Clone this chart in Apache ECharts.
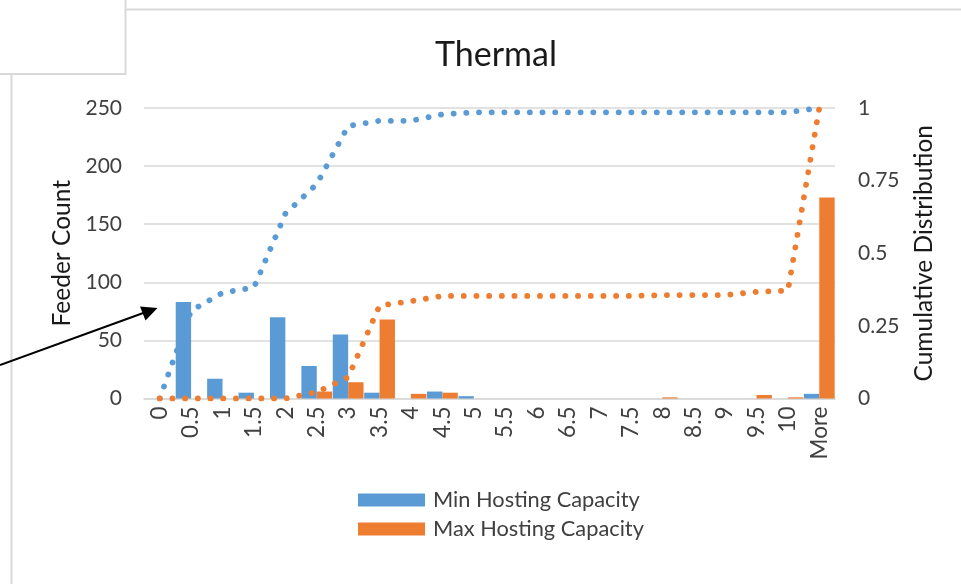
<!DOCTYPE html>
<html>
<head>
<meta charset="utf-8">
<script src="https://cdn.jsdelivr.net/npm/echarts@6/dist/echarts.min.js"></script>
<style>
  html, body { margin: 0; padding: 0; background: #fff; }
  #chart { width: 961px; height: 584px; }
</style>
</head>
<body>
<div id="chart"></div>
<script>
// Hosting capacity bins used on the category axis
const categories = ['0', '0.5', '1', '1.5', '2', '2.5', '3', '3.5', '4', '4.5', '5',
  '5.5', '6', '6.5', '7', '7.5', '8', '8.5', '9', '9.5', '10', 'More'];

// Feeder counts per bin
const minHostingCount = [0, 83, 17, 5, 70, 28, 55, 5, 0, 6, 2, 0, 0, 0, 0, 0, 0, 0, 0, 0, 0, 4];
const maxHostingCount = [0, 0, 0, 0, 0, 6, 14, 68, 4, 5, 0, 0, 0, 0, 0, 0, 1, 0, 0, 3, 1, 173];

// Cumulative distribution per bin
const minHostingCum = [0, 0.302, 0.364, 0.382, 0.636, 0.738, 0.938, 0.956, 0.956, 0.978, 0.985,
  0.985, 0.985, 0.985, 0.985, 0.985, 0.985, 0.985, 0.985, 0.985, 0.985, 1];
const maxHostingCum = [0, 0, 0, 0, 0, 0.022, 0.073, 0.320, 0.335, 0.353, 0.353,
  0.353, 0.353, 0.353, 0.353, 0.353, 0.356, 0.356, 0.356, 0.367, 0.371, 1];

// Axis ticks
const countTicks = { min: 0, max: 250, interval: 50 };
const cumTicks = { min: 0, max: 1, interval: 0.25 };

const BLUE = '#5B9BD5';
const ORANGE = '#ED7D31';
const FONT = 'Lato';
const GRID_GREY = '#d9d9d9';

const chart = echarts.init(document.getElementById('chart'), null, { renderer: 'canvas' });

// round-dot line pattern
const dotted = (color) => ({
  color: color,
  width: 5.8,
  type: [0.1, 12.6],
  cap: 'round'
});

chart.setOption({
  backgroundColor: '#ffffff',
  animation: false,
  textStyle: { fontFamily: FONT },
  title: {
    text: 'Thermal',
    left: 491,
    top: 33,
    textAlign: 'center',
    textStyle: { fontFamily: FONT, fontSize: 34, fontWeight: 'normal', color: '#1a1a1a' }
  },
  grid: { left: 144, right: 126, top: 108, bottom: 185.5, containLabel: false },
  legend: {
    orient: 'vertical',
    left: 353,
    top: 484,
    itemWidth: 67,
    itemHeight: 13,
    itemGap: 7,
    icon: 'rect',
    data: ['Min Hosting Capacity', 'Max Hosting Capacity'],
    textStyle: { fontFamily: FONT, fontSize: 21.8, lineHeight: 22, color: '#404040', padding: [0, 0, 0, 3] }
  },
  xAxis: {
    type: 'category',
    data: categories,
    axisLine: { lineStyle: { color: GRID_GREY, width: 1.5 } },
    axisTick: { show: false },
    axisLabel: {
      rotate: 90,
      margin: 8,
      interval: 0,
      fontFamily: FONT,
      fontSize: 22.5,
      color: '#404040'
    }
  },
  yAxis: [
    {
      type: 'value',
      min: countTicks.min,
      max: countTicks.max,
      interval: countTicks.interval,
      name: 'Feeder Count',
      nameLocation: 'middle',
      nameRotate: 90,
      nameGap: 69,
      nameTextStyle: { fontFamily: FONT, fontSize: 24.5, color: '#1a1a1a' },
      axisLine: { show: false },
      axisTick: { show: false },
      axisLabel: { margin: 22, fontFamily: FONT, fontSize: 21, color: '#404040' },
      splitLine: { lineStyle: { color: GRID_GREY, width: 1.5 } }
    },
    {
      type: 'value',
      min: cumTicks.min,
      max: cumTicks.max,
      interval: cumTicks.interval,
      name: 'Cumulative Distribution',
      nameLocation: 'middle',
      nameRotate: 90,
      nameGap: 77,
      nameTextStyle: { fontFamily: FONT, fontSize: 24.5, color: '#1a1a1a' },
      axisLine: { show: false },
      axisTick: { show: false },
      axisLabel: { margin: 23, fontFamily: FONT, fontSize: 21, color: '#404040' },
      splitLine: { show: false }
    }
  ],
  series: [
    {
      name: 'Min Hosting Capacity',
      type: 'bar',
      data: minHostingCount,
      barGap: '0%',
      barCategoryGap: '2%',
      itemStyle: { color: BLUE }
    },
    {
      name: 'Max Hosting Capacity',
      type: 'bar',
      data: maxHostingCount,
      itemStyle: { color: ORANGE }
    },
    {
      name: 'Min Hosting Capacity (cumulative)',
      type: 'line',
      yAxisIndex: 1,
      data: minHostingCum,
      symbol: 'none',
      smooth: false,
      lineStyle: dotted(BLUE),
      z: 3
    },
    {
      name: 'Max Hosting Capacity (cumulative)',
      type: 'line',
      yAxisIndex: 1,
      data: maxHostingCum,
      symbol: 'none',
      smooth: false,
      lineStyle: dotted(ORANGE),
      z: 3
    }
  ],
  graphic: [
    // surrounding sheet borders
    { type: 'line', shape: { x1: 126, y1: 9.5, x2: 961, y2: 9.5 }, style: { stroke: GRID_GREY, lineWidth: 2 }, silent: true },
    { type: 'rect', shape: { x: -3, y: -3, width: 128.5, height: 77 }, style: { fill: '#ffffff', stroke: GRID_GREY, lineWidth: 2 }, silent: true },
    { type: 'line', shape: { x1: 11.5, y1: 75, x2: 11.5, y2: 584 }, style: { stroke: GRID_GREY, lineWidth: 2 }, silent: true },
    // callout arrow
    { type: 'line', shape: { x1: 0, y1: 365, x2: 146, y2: 312 }, style: { stroke: '#000000', lineWidth: 2 }, silent: true, z: 10 },
    { type: 'polygon', shape: { points: [[157.5, 308], [140, 306.5], [145.5, 320.5]] }, style: { fill: '#000000' }, silent: true, z: 10 }
  ]
});
</script>
</body>
</html>
